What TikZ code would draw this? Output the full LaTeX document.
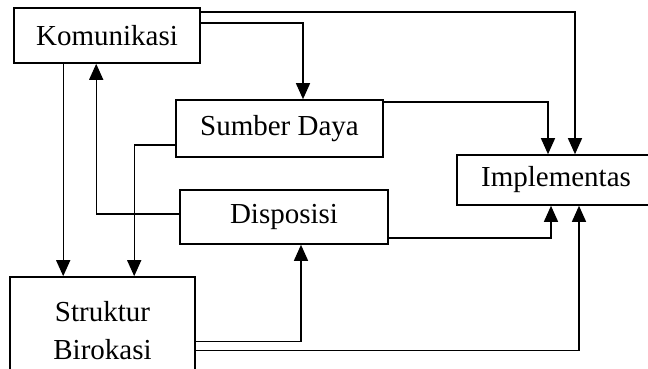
\documentclass[tikz,border=0pt]{standalone}
\usepackage{fontspec}
\setmainfont{Liberation Serif}
\usetikzlibrary{arrows.meta,calc}
\begin{document}
\begin{tikzpicture}[
  x=0.5pt, y=-0.5pt,
  factor/.style={
    draw, line width=0.8pt, inner sep=0pt, align=center,
    font=\fontsize{14.5}{19}\selectfont,
  },
  link/.style={
    line width=0.7pt, -{Triangle[length=8pt,width=7pt]},
  }
  ]
  \clip (0,0) rectangle (648,369);
  \node [factor, minimum width=93pt, minimum height=27.5pt] (kom) at (107,35.5) {Komunikasi};
  \node [factor, minimum width=103.5pt, minimum height=28.5pt] (sumber) at (279.5,128.5) {Sumber Daya};
  \node [factor, minimum width=104pt, minimum height=27pt] (dispo) at (284,217) {Disposisi};
  \node [factor, minimum width=99pt, minimum height=25pt] (impl) at (556,180) {Implementas};
  \node [factor, minimum width=92.5pt, minimum height=54pt] (struk) at (102.5,331) {Struktur\\Birokasi};

  \coordinate (komdown) at ($(kom.south west)+(50,0)$);

  \draw [link] ($(kom.north east)+(0,5)$) -| ($(impl.north)+(19,0)$);
  \draw [link] ($(kom.north east)+(0,16)$) -| ($(sumber.north)+(23.5,0)$);
  \draw [link] (komdown) -- (komdown |- struk.north);
  \draw [link] ($(dispo.west)+(0,-3)$) -| ($(kom.south west)+(83,0)$);
  \draw [link] ($(sumber.west)+(0,16.5)$) -| ($(struk.north west)+(125,0)$);
  \draw [link] ($(sumber.north east)+(0,3)$) -| ($(impl.north)+(-8,0)$);
  \draw [link] ($(dispo.south east)+(0,-7)$) -| ($(impl.south)+(-5,0)$);
  \draw [link] ($(struk.north east)+(0,65)$) -| ($(dispo.south)+(17,0)$);
  \draw [link] ($(struk.north east)+(0,74)$) -| ($(impl.south)+(23,0)$);
\end{tikzpicture}
\end{document}
